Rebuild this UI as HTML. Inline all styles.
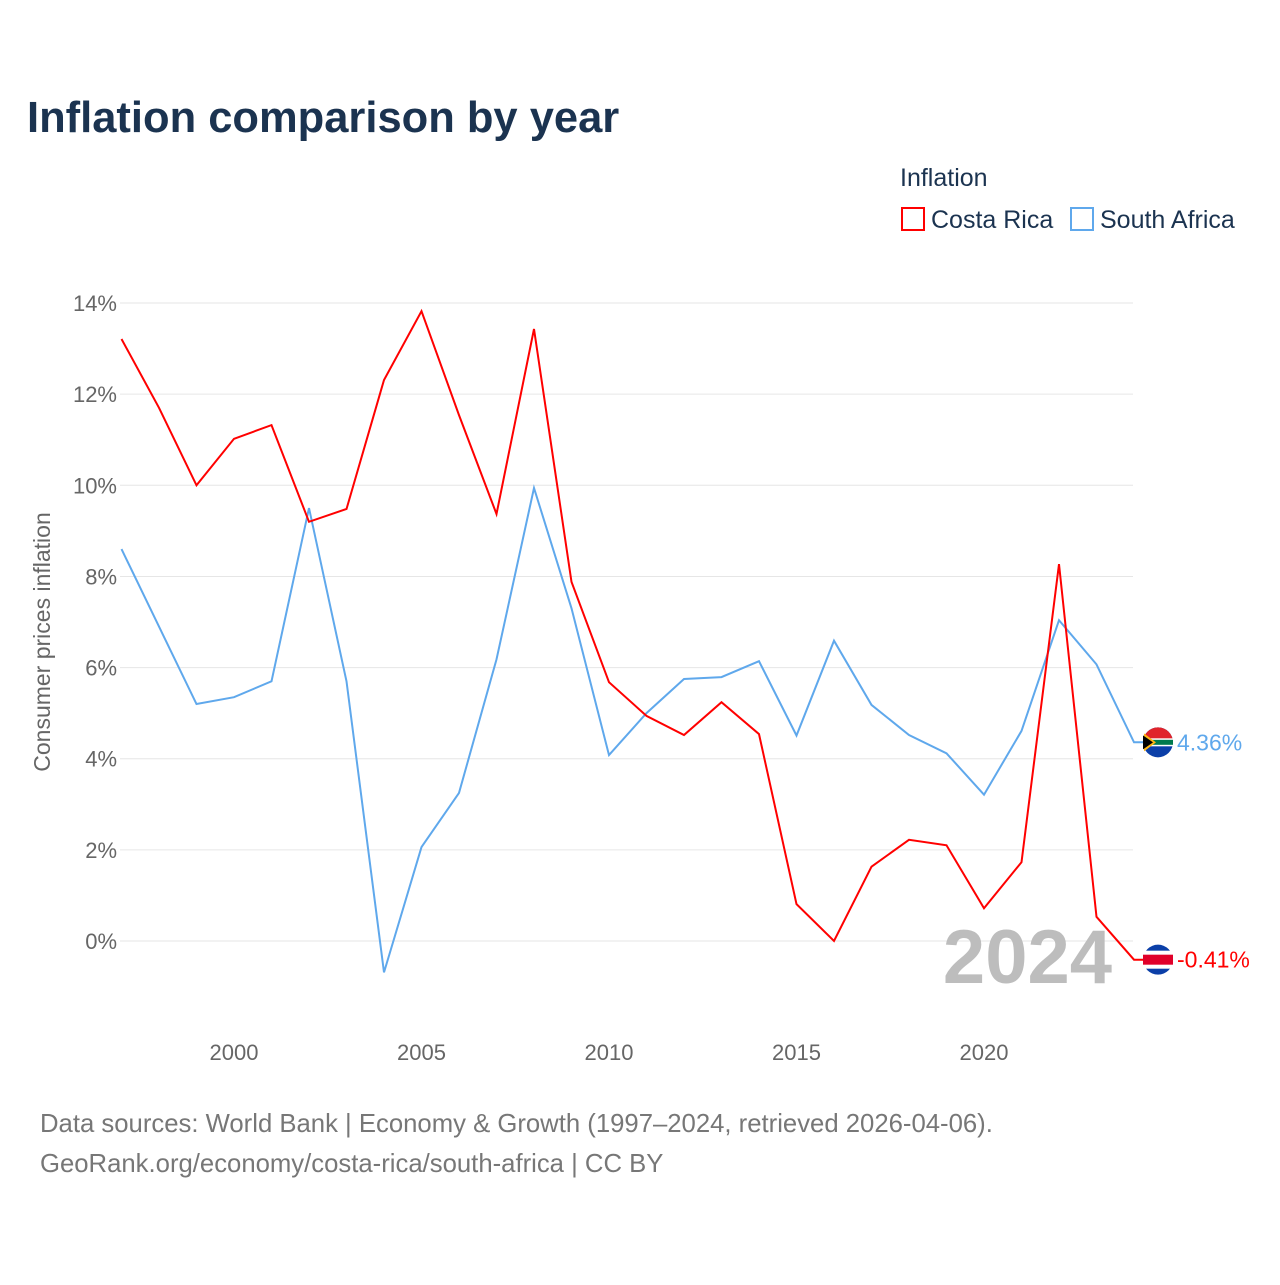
<!DOCTYPE html>
<html><head><meta charset="utf-8"><style>
body{margin:0;background:#fff;font-family:"Liberation Sans",sans-serif}
svg text{font-family:"Liberation Sans",sans-serif}
</style></head><body>
<svg width="1280" height="1280" xmlns="http://www.w3.org/2000/svg" id="chart">
<text x="27" y="132" font-size="43.5" font-weight="bold" fill="#1b3350">Inflation comparison by year</text>
<text x="900" y="186" font-size="25" fill="#1b3350">Inflation</text>
<g><rect x="902" y="208" width="22" height="22" fill="none" stroke="#ff0000" stroke-width="2"/><text x="931" y="228" font-size="25" fill="#1b3350">Costa Rica</text></g>
<g><rect x="1071" y="208" width="22" height="22" fill="none" stroke="#5fa8ec" stroke-width="2"/><text x="1100" y="228" font-size="25" fill="#1b3350">South Africa</text></g>
<text transform="translate(50,642) rotate(-90)" text-anchor="middle" font-size="23" fill="#666">Consumer prices inflation</text>
<g id="grid"></g><g id="yticks"></g><g id="xticks"></g>
<text x="1112" y="983" text-anchor="end" font-size="76" font-weight="bold" fill="#bdbdbd">2024</text>
<g id="series"></g>
<text x="40" y="1132" font-size="25.7" fill="#777">Data sources: World Bank | Economy &amp; Growth (1997–2024, retrieved 2026-04-06).</text>
<text x="40" y="1172" font-size="25.7" fill="#777">GeoRank.org/economy/costa-rica/south-africa | CC BY</text>
</svg>
<script>
const years=[1997,1998,1999,2000,2001,2002,2003,2004,2005,2006,2007,2008,2009,2010,2011,2012,2013,2014,2015,2016,2017,2018,2019,2020,2021,2022,2023,2024];
const costaRica=[13.21,11.7,10.0,11.02,11.32,9.2,9.48,12.31,13.82,11.54,9.37,13.43,7.88,5.68,4.94,4.52,5.24,4.54,0.81,0.0,1.63,2.22,2.1,0.72,1.73,8.27,0.53,-0.41];
const southAfrica=[8.6,6.9,5.2,5.35,5.7,9.5,5.7,-0.69,2.06,3.25,6.18,9.94,7.3,4.08,5.0,5.75,5.79,6.14,4.51,6.59,5.18,4.52,4.12,3.21,4.61,7.04,6.07,4.36];
const yTicks=[0,2,4,6,8,10,12,14];
const xTicks=[2000,2005,2010,2015,2020];
const NS="http://www.w3.org/2000/svg";
const X=y=>234+(y-2000)*37.5;
const Y=v=>941-v*45.57;
function mk(t,a,p){const e=document.createElementNS(NS,t);for(const k in a)e.setAttribute(k,a[k]);p.appendChild(e);return e;}
const grid=document.getElementById('grid'),yt=document.getElementById('yticks'),xt=document.getElementById('xticks'),ser=document.getElementById('series');
yTicks.forEach(v=>{
 const l=mk('line',{x1:120,x2:1133,y1:Y(v),y2:Y(v),stroke:'#e6e6e6','stroke-width':1},grid);
 
 
 const t=mk('text',{x:117,y:Y(v)+8,'text-anchor':'end','font-size':22,fill:'#666'},yt);
 t.textContent=v+'%';
 
 
});
xTicks.forEach(v=>{
 const t=mk('text',{x:X(v),y:1060,'text-anchor':'middle','font-size':22,fill:'#666'},xt);
 t.textContent=v;
 
 
});
function draw(vals,color,name,flag){
 let d=vals.map((v,i)=>(i?'L':'M')+X(years[i]).toFixed(1)+','+Y(v).toFixed(1)).join(' ');
 const last=vals[vals.length-1];
 d+=' L'+(X(2024)+12)+','+Y(last).toFixed(1);
 const p=mk('path',{d:d,fill:'none',stroke:color,'stroke-width':2},ser);
 
 
 const cx=1158,cy=Y(last);
 const g=mk('g',{},ser);
 
 
 if(flag==='cr'){
  mk('circle',{cx:cx,cy:cy,r:15,fill:'#0b3fa8'},g);
  mk('rect',{x:cx-15,y:cy-9,width:30,height:18,fill:'#fff'},g);
  mk('rect',{x:cx-15,y:cy-5,width:30,height:10,fill:'#e0002a'},g);
 }else{
  mk('circle',{cx:cx,cy:cy,r:15,fill:'#0b3fa8'},g);
  mk('path',{d:`M${cx-15},${cy} A15,15 0 0 1 ${cx+15},${cy} Z`,fill:'#e0242b'},g);
  mk('rect',{x:cx-15,y:cy-4,width:30,height:8,fill:'#fff'},g);
  mk('rect',{x:cx-15,y:cy-2.5,width:30,height:5,fill:'#007a4d'},g);
  mk('path',{d:`M${cx-14},${cy-9} L${cx-2},${cy} L${cx-14},${cy+9} Z`,fill:'#ffb612'},g);
  mk('path',{d:`M${cx-15},${cy-7} L${cx-5},${cy} L${cx-15},${cy+7} Z`,fill:'#000'},g);
 }
 const t=mk('text',{x:1177,y:cy+8,'font-size':23,fill:color},ser);
 t.textContent=last.toFixed(2)+'%';
 
 
}
draw(southAfrica,'#5fa8ec','south-africa','za');
draw(costaRica,'#ff0000','costa-rica','cr');
</script>
</body></html>
